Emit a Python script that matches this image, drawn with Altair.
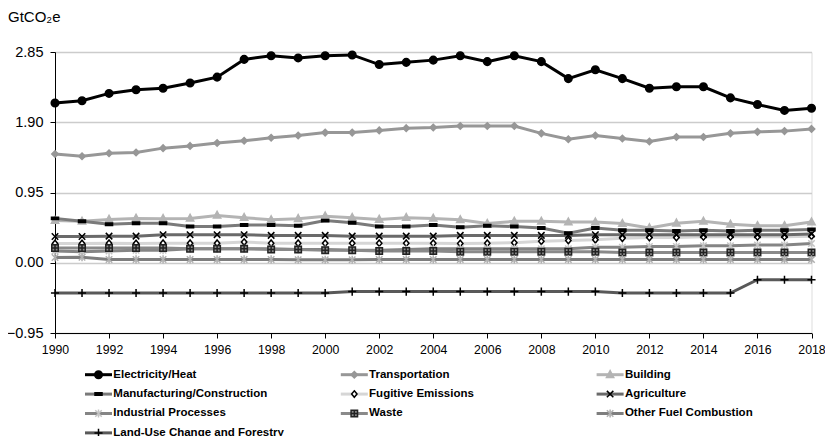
import altair as alt
import pandas as pd

years = list(range(1990, 2019))
x_ticks = list(range(1990, 2019, 2))
y_ticks = [-0.95, 0.0, 0.95, 1.90, 2.85]

series_names = [
    "Electricity/Heat", "Transportation", "Building",
    "Manufacturing/Construction", "Fugitive Emissions", "Agriculture",
    "Industrial Processes", "Waste", "Other Fuel Combustion",
    "Land-Use Change and Forestry",
]

electricity = [2.16, 2.19, 2.29, 2.34, 2.36, 2.43, 2.51, 2.75, 2.80, 2.77,
               2.80, 2.81, 2.68, 2.71, 2.74, 2.80, 2.72, 2.80, 2.72, 2.49,
               2.61, 2.49, 2.36, 2.38, 2.38, 2.23, 2.14, 2.06, 2.09]
transportation = [1.47, 1.44, 1.48, 1.49, 1.55, 1.58, 1.62, 1.65, 1.69, 1.72,
                  1.76, 1.76, 1.79, 1.82, 1.83, 1.85, 1.85, 1.85, 1.75, 1.67,
                  1.72, 1.68, 1.64, 1.70, 1.70, 1.75, 1.77, 1.78, 1.81]
building = [0.57, 0.56, 0.585, 0.60, 0.595, 0.60, 0.64, 0.61, 0.58, 0.595,
            0.63, 0.61, 0.585, 0.61, 0.60, 0.58, 0.53, 0.56, 0.56, 0.55,
            0.55, 0.53, 0.47, 0.535, 0.56, 0.52, 0.50, 0.50, 0.55]
manufacturing = [0.60, 0.56, 0.52, 0.535, 0.535, 0.49, 0.49, 0.51, 0.51, 0.50,
                 0.57, 0.54, 0.49, 0.49, 0.51, 0.48, 0.50, 0.49, 0.47, 0.40,
                 0.47, 0.44, 0.44, 0.43, 0.44, 0.43, 0.44, 0.44, 0.45]
fugitive = [0.26, 0.26, 0.265, 0.26, 0.265, 0.265, 0.265, 0.28, 0.265, 0.265,
            0.265, 0.265, 0.265, 0.265, 0.265, 0.26, 0.265, 0.27, 0.29, 0.30,
            0.31, 0.33, 0.34, 0.34, 0.35, 0.35, 0.35, 0.35, 0.36]
agriculture = [0.355, 0.355, 0.36, 0.36, 0.38, 0.38, 0.38, 0.38, 0.37, 0.37,
               0.37, 0.36, 0.36, 0.36, 0.36, 0.37, 0.37, 0.37, 0.37, 0.37,
               0.38, 0.38, 0.38, 0.38, 0.38, 0.38, 0.38, 0.38, 0.39]
industrial = [0.16, 0.15, 0.16, 0.17, 0.17, 0.19, 0.19, 0.19, 0.19, 0.18,
              0.18, 0.17, 0.17, 0.18, 0.19, 0.19, 0.19, 0.19, 0.19, 0.19,
              0.21, 0.21, 0.22, 0.22, 0.23, 0.23, 0.24, 0.24, 0.26]
waste = [0.20, 0.20, 0.20, 0.20, 0.20, 0.19, 0.19, 0.19, 0.18, 0.18,
         0.17, 0.17, 0.16, 0.16, 0.16, 0.15, 0.15, 0.15, 0.15, 0.15,
         0.15, 0.14, 0.14, 0.14, 0.14, 0.14, 0.14, 0.14, 0.14]
other_fuel = [0.07, 0.075, 0.045, 0.045, 0.045, 0.045, 0.045, 0.045, 0.045, 0.04,
              0.04, 0.04, 0.045, 0.045, 0.045, 0.045, 0.045, 0.045, 0.045, 0.045,
              0.045, 0.045, 0.045, 0.045, 0.045, 0.045, 0.045, 0.045, 0.045]
land_use = [-0.41, -0.41, -0.41, -0.41, -0.41, -0.41, -0.41, -0.41, -0.41, -0.41,
            -0.41, -0.39, -0.39, -0.39, -0.39, -0.39, -0.39, -0.39, -0.39, -0.39,
            -0.39, -0.41, -0.41, -0.41, -0.41, -0.41, -0.23, -0.23, -0.23]

series_values = [electricity, transportation, building, manufacturing, fugitive,
                 agriculture, industrial, waste, other_fuel, land_use]

line_colors = ["#000000", "#979797", "#b4b4b4", "#7a7a7a", "#d6d6d6",
               "#6a6a6a", "#858585", "#8a8a8a", "#7e7e7e", "#595959"]
marker_shapes = [
    "M0.28,0A0.28,0.28,0,1,1,-0.28,0A0.28,0.28,0,1,1,0.28,0Z",
    "M0,-0.24L0.24,0L0,0.24L-0.24,0Z",
    "M0,-0.3L0.27,0.2L-0.27,0.2Z",
    "M-0.26,-0.09H0.26V0.09H-0.26Z",
    "M0,-0.24L0.2,0L0,0.24L-0.2,0Z",
    "M-0.24,-0.24L0.24,0.24M-0.24,0.24L0.24,-0.24",
    "M-0.24,-0.24L0.24,0.24M-0.24,0.24L0.24,-0.24M0,-0.3V0.3",
    "M-0.24,-0.24H0.24V0.24H-0.24ZM-0.2,0H0.2M0,-0.2V0.2",
    "M-0.24,-0.24L0.24,0.24M-0.24,0.24L0.24,-0.24M0,-0.3V0.3",
    "M-0.3,0H0.3M0,-0.3V0.3",
]
marker_fills = ["#000000", "#979797", "#b4b4b4", "#000000", "#ffffff",
                "transparent", "transparent", "#8a8a8a", "transparent", "transparent"]
marker_strokes = ["#000000", "#979797", "#b4b4b4", "#000000", "#000000",
                  "#000000", "#c4c4c4", "#222222", "#b0b0b0", "#000000"]

rows = []
for name, vals in zip(series_names, series_values):
    for yr, v in zip(years, vals):
        rows.append({"year": yr, "value": v, "sector": name})
df = pd.DataFrame(rows)

legend_df = pd.DataFrame({
    "sector": series_names,
    "col": [i % 3 for i in range(len(series_names))],
    "row": [i // 3 for i in range(len(series_names))],
})

FONT = "Liberation Sans"

color_enc = alt.Color("sector:N", sort=series_names,
                      scale=alt.Scale(range=line_colors), legend=None)
shape_enc = alt.Shape("sector:N", sort=series_names,
                      scale=alt.Scale(range=marker_shapes), legend=None)
fill_enc = alt.Fill("sector:N", sort=series_names,
                    scale=alt.Scale(range=marker_fills), legend=None)
stroke_enc = alt.Stroke("sector:N", sort=series_names,
                        scale=alt.Scale(range=marker_strokes), legend=None)

x_enc = alt.X("year:Q", scale=alt.Scale(domain=[1990, 2018], nice=False, zero=False),
              axis=alt.Axis(values=x_ticks, format="d", title=None, grid=False,
                            labelFontSize=12.3, tickSize=5, labelPadding=5,
                            labelFlush=False, domainColor="black", tickColor="black",
                            labelColor="black", labelFont=FONT))
y_enc = alt.Y("value:Q", scale=alt.Scale(domain=[-0.95, 2.85], nice=False, zero=False),
              axis=alt.Axis(values=y_ticks, format=".2f", title=None, grid=True,
                            gridColor="#cccccc", gridWidth=1.3, labelFontSize=14.5,
                            tickSize=5, labelPadding=7, labelFlush=False,
                            domainColor="black", tickColor="black",
                            labelColor="black", labelFont=FONT))

lines = alt.Chart(df).mark_line(strokeWidth=3).encode(x=x_enc, y=y_enc, color=color_enc)
points = alt.Chart(df).mark_point(size=729, opacity=1, strokeWidth=1.5).encode(
    x="year:Q", y="value:Q", shape=shape_enc, fill=fill_enc, stroke=stroke_enc)
main_layer = alt.layer(lines, points)

# legend: its own x/y scales (one x unit = one legend column, one y unit = one row),
# placed below the plot area
SEG = 0.1056
lx = alt.Scale(domain=[-0.1173, 2.8401], nice=False, zero=False)
ly = alt.Scale(domain=[-16.634, -2.149], reverse=True, nice=False, zero=False)
leg_base = alt.Chart(legend_df).transform_calculate(
    x_end=f"datum.col + {SEG}",
    x_mid=f"datum.col + {SEG / 2}",
    x_txt=f"datum.col + 0.1106",
)
leg_lines = leg_base.mark_rule(strokeWidth=3).encode(
    x=alt.X("col:Q", scale=lx, axis=None),
    x2="x_end:Q",
    y=alt.Y("row:Q", scale=ly, axis=None),
    color=color_enc,
)
leg_points = leg_base.mark_point(size=729, opacity=1, strokeWidth=1.5).encode(
    x=alt.X("x_mid:Q", axis=None), y=alt.Y("row:Q", axis=None),
    shape=shape_enc, fill=fill_enc, stroke=stroke_enc)
leg_text = leg_base.mark_text(align="left", baseline="middle", font=FONT,
                              fontSize=11.5, fontWeight="bold", color="black").encode(
    x=alt.X("x_txt:Q", axis=None), y=alt.Y("row:Q", axis=None), text="sector:N")
legend_layer = alt.layer(leg_lines, leg_points, leg_text)

chart = alt.layer(main_layer, legend_layer).resolve_scale(
    x="independent", y="independent"
).properties(
    width=756.5,
    height=281,
    padding={"left": 47, "top": 44, "right": 13.5, "bottom": 103},
    autosize=alt.AutoSizeParams(type="none"),
    title=alt.TitleParams(text="GtCO₂e", anchor="start", frame="group", dx=-47,
                          fontSize=15, fontWeight="normal", font=FONT,
                          color="black", offset=19),
).configure_view(stroke=None).configure(font=FONT)

chart.save("out.html", embed_options={"renderer": "svg", "actions": False})
